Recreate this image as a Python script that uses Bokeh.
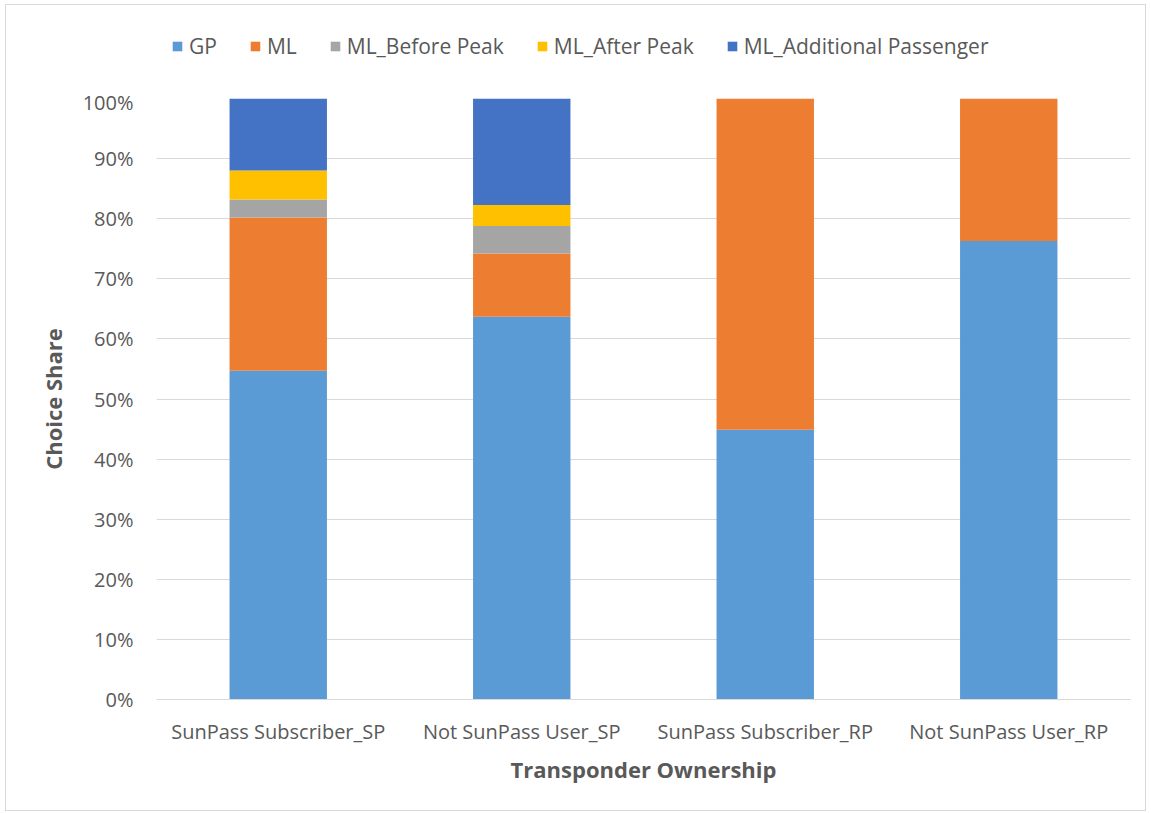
from bokeh.plotting import figure
from bokeh.layouts import column
from bokeh.models import Legend, LegendItem, FixedTicker, PrintfTickFormatter, FactorRange, Range1d
from bokeh.embed import file_html
from bokeh.resources import INLINE

categories = ["SunPass Subscriber_SP", "Not SunPass User_SP", "SunPass Subscriber_RP", "Not SunPass User_RP"]
series_names = ["GP", "ML", "ML_Before Peak", "ML_After Peak", "ML_Additional Passenger"]
gp = [54.7, 63.7, 44.9, 76.3]
ml = [25.5, 10.5, 55.1, 23.7]
ml_before = [3.0, 4.6, 0.0, 0.0]
ml_after = [4.8, 3.5, 0.0, 0.0]
ml_additional = [12.0, 17.7, 0.0, 0.0]
y_ticks = [0, 10, 20, 30, 40, 50, 60, 70, 80, 90, 100]

colors = ["#5B9BD5", "#ED7D31", "#A5A5A5", "#FFC000", "#4472C4"]
font = "Open Sans"
txt = "#595959"

data = {"cat": categories, "GP": gp, "ML": ml, "ML_Before Peak": ml_before,
        "ML_After Peak": ml_after, "ML_Additional Passenger": ml_additional}

# legend strip (its own small plot above the chart)
pl = figure(width=1139, height=83, x_range=Range1d(0, 1), y_range=Range1d(0, 1),
            x_axis_type=None, y_axis_type=None, output_backend="svg", toolbar_location=None,
            min_border=0)
pl.outline_line_color = None
pl.grid.visible = False
leg_renderers = [pl.vbar(x=[0], top=[0], bottom=[0], width=0, color=c, line_width=0) for c in colors]
legend = Legend(items=[LegendItem(label=n, renderers=[r]) for n, r in zip(series_names, leg_renderers)],
                orientation="horizontal", location=(15, 28), padding=0, margin=0,
                spacing=32, label_standoff=6, glyph_width=12, glyph_height=12,
                label_text_font=font, label_text_font_size="21px", label_text_color=txt,
                border_line_color=None, background_fill_alpha=0)
pl.add_layout(legend, "center")

# main chart
p = figure(width=1139, height=722, x_range=FactorRange(*categories, range_padding=0),
           y_range=Range1d(0, 100), output_backend="svg", toolbar_location=None,
           min_border_left=150, min_border_right=15, min_border_top=10, min_border_bottom=111)

p.vbar_stack(series_names, x="cat", width=0.4, color=colors, source=data, line_width=0)

p.outline_line_color = None
p.xgrid.grid_line_color = None
p.ygrid.grid_line_color = "#d9d9d9"
p.ygrid.grid_line_width = 1
p.yaxis.ticker = FixedTicker(ticks=y_ticks)
p.yaxis.formatter = PrintfTickFormatter(format="%d%%")
for ax in (p.xaxis[0], p.yaxis[0]):
    ax.axis_line_color = None
    ax.major_tick_line_color = None
    ax.minor_tick_line_color = None
    ax.major_label_text_font = font
    ax.major_label_text_font_size = "20px"
    ax.major_label_text_color = txt
    ax.axis_label_text_font = font
    ax.axis_label_text_font_size = "22px"
    ax.axis_label_text_font_style = "bold"
    ax.axis_label_text_color = txt
p.xaxis.axis_label = "Transponder Ownership"
p.yaxis.axis_label = "Choice Share"
p.xaxis.axis_line_color = "#d9d9d9"
p.xaxis.major_label_standoff = 12
p.xaxis.axis_label_standoff = 6
p.yaxis.major_label_standoff = 17
p.yaxis.axis_label_standoff = 12

layout = column(pl, p, spacing=0,
                styles={"border": "1px solid #d9d9d9", "margin-left": "5px", "margin-top": "4px"})

open("out.html", "w").write(file_html(layout, INLINE))
